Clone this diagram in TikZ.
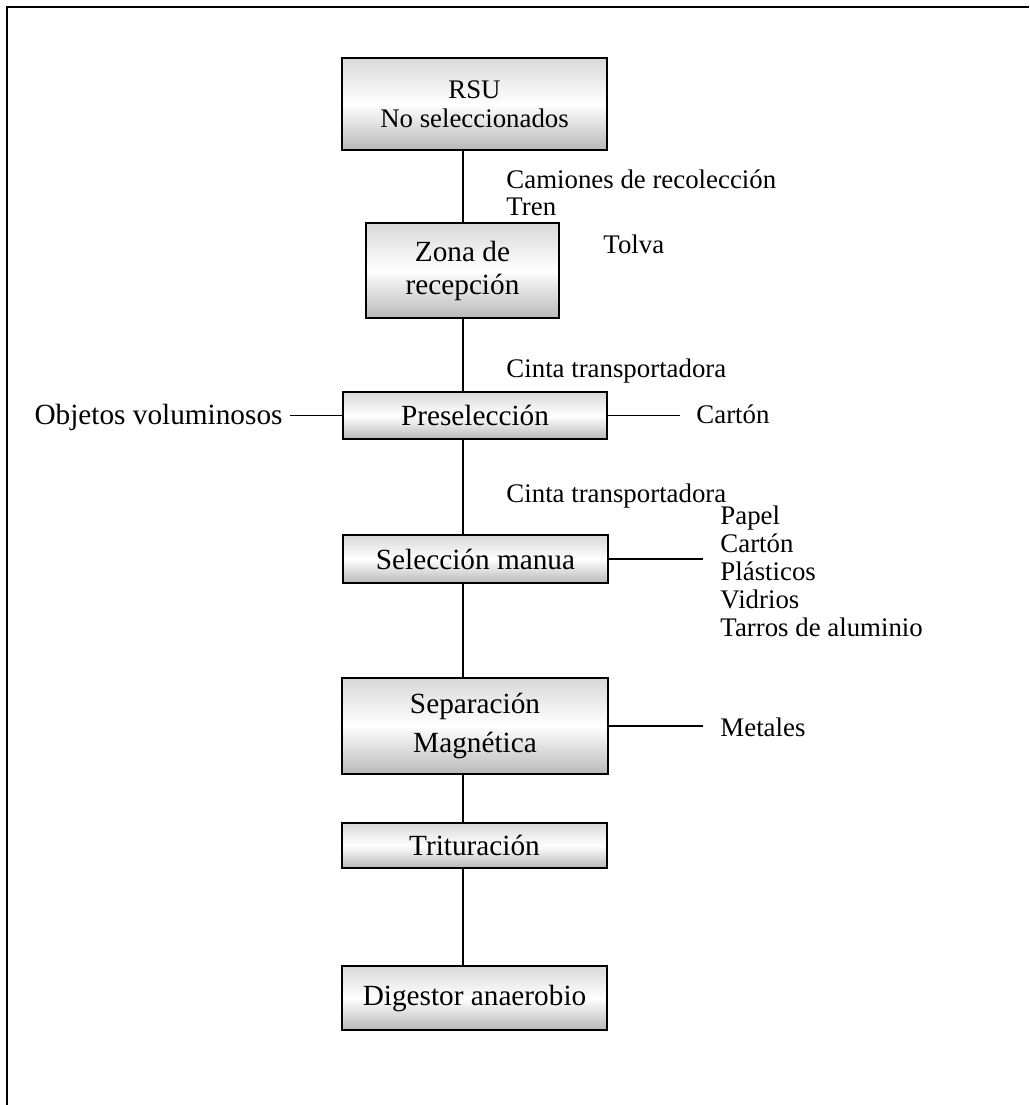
\documentclass[tikz,border=0pt]{standalone}
\usepackage{fontspec}
\setmainfont{Liberation Serif}
\begin{document}
\begin{tikzpicture}[x=0.41pt, y=-0.41pt,
   paso/.style={draw, line width=1pt, top color=gray!30, bottom color=gray!55,
      middle color=white, inner sep=0pt, align=center,
      font=\fontsize{12}{13.8}\selectfont},
   rotulo/.style={inner sep=0pt, font=\fontsize{11}{12.6}\selectfont},
   linea/.style={line width=0.8pt}]
   \newcommand{\px}{0.41pt}
   \useasboundingbox (0,0) rectangle (1029,1105);
   \draw[line width=0.9pt] (7,1105) -- (7,7) -- (1029,7);
   \coordinate (eje) at (463,0);
   % etapas del proceso
   \node[paso, minimum width=265*\px, minimum height=92*\px,
      font=\fontsize{11}{12}\selectfont] (rsu) at (474.5,104) {RSU\\No seleccionados};
   \node[paso, minimum width=193*\px, minimum height=95*\px,
      font=\fontsize{12}{13.5}\selectfont] (zona) at (462.5,270.5) {Zona de\\recepción};
   \node[paso, minimum width=264*\px, minimum height=47*\px] (pre) at (475,415.5) {Preselección};
   \node[paso, minimum width=265*\px, minimum height=48*\px] (sel) at (475.5,559) {Selección manua};
   \node[paso, minimum width=266*\px, minimum height=96*\px,
      font=\fontsize{12}{16}\selectfont] (sep) at (475,726) {Separación\\Magnética};
   \node[paso, minimum width=265*\px, minimum height=45*\px] (tri) at (474.5,845.5) {Trituración};
   \node[paso, minimum width=265*\px, minimum height=64*\px] (dig) at (474.5,998) {Digestor anaerobio};
   \foreach \a/\b in {rsu/zona, zona/pre, pre/sel, sel/sep, sep/tri, tri/dig}
      \draw[linea] (eje |- \a.south) -- (eje |- \b.north);
   % rotulos
   \node[rotulo, anchor=base west] (camiones) at (506,188) {Camiones de recolección};
   \node[rotulo, anchor=base west] (tren) at (506,215) {Tren};
   \node[rotulo, anchor=base west] (tolva) at (603,253) {Tolva};
   \node[rotulo, anchor=base west] (cinta1) at (506,377) {Cinta transportadora};
   \node[rotulo, anchor=base west] (carton) at (696,423) {Cartón};
   \node[rotulo, anchor=base east, font=\fontsize{12}{14}\selectfont] (objetos) at (283,424) {Objetos voluminosos};
   \node[rotulo, anchor=base west] (cinta2) at (506,502) {Cinta transportadora};
   \foreach \t [count=\i] in {Papel, Cartón, Plásticos, Vidrios, Tarros de aluminio}
      \node[rotulo, anchor=base west] (lista\i) at (720,496+28*\i) {\t};
   \node[rotulo, anchor=base west] (metales) at (720,736) {Metales};
   % salidas laterales
   \draw[linea, shorten >=7*\px] (pre.west) -- (pre.west -| objetos.east);
   \draw[linea, shorten >=16*\px] (pre.east) -- (pre.east -| carton.west);
   \draw[linea, shorten >=17*\px] (sel.east) -- (sel.east -| lista1.west);
   \draw[linea, shorten >=17*\px] (sep.east) -- (sep.east -| metales.west);
\end{tikzpicture}
\end{document}
